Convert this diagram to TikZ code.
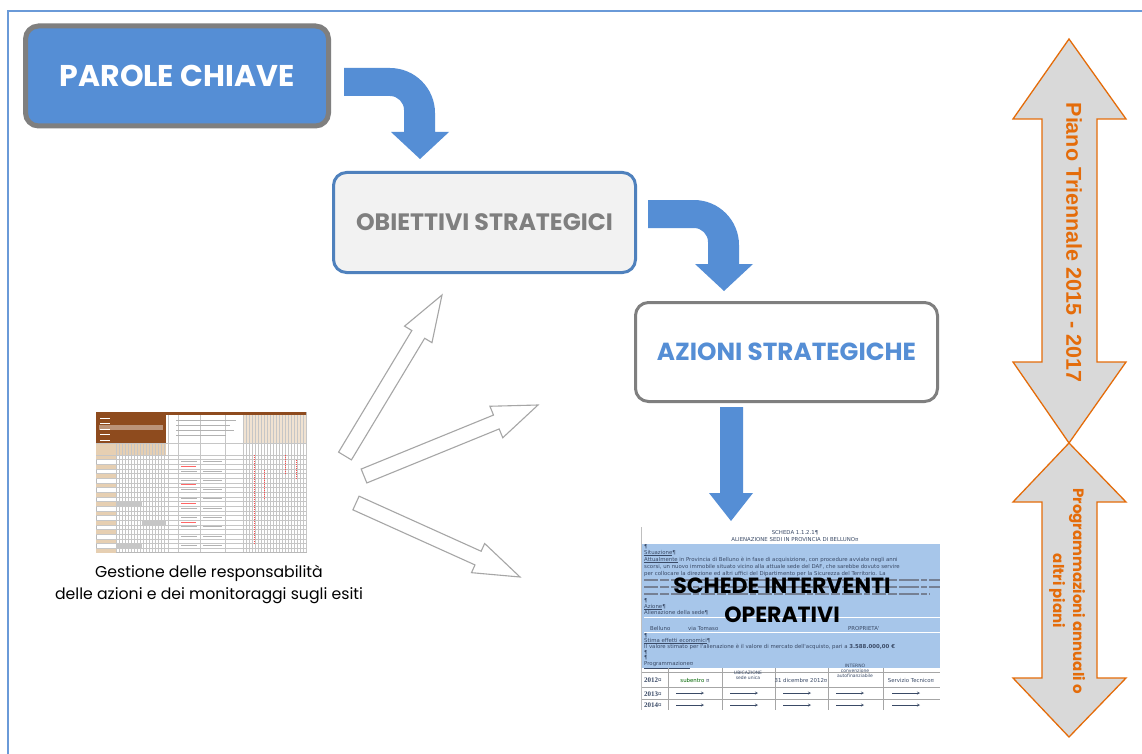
\documentclass[tikz,border=0pt]{standalone}
\usepackage{fontspec}
\setmainfont{Poppins}
\newfontfamily\arialf{Liberation Sans}
\newfontfamily\tinyf{DejaVu Sans}
\newfontfamily\serf{Liberation Serif}
\usetikzlibrary{calc}
\definecolor{kblue}{HTML}{558ED5}
\definecolor{kgray}{HTML}{7F7F7F}
\definecolor{kbord}{HTML}{4F81BD}
\definecolor{kframe}{HTML}{6A9AD8}
\definecolor{korange}{HTML}{E46C0A}
\definecolor{klight}{HTML}{D9D9D9}
\definecolor{kbox}{HTML}{F2F2F2}
\definecolor{kline}{HTML}{A6A6A6}
\definecolor{kbrown}{HTML}{8E4B1E}
\definecolor{ktan}{HTML}{E6CFB2}
\definecolor{khl}{HTML}{A7C6EA}
\definecolor{ktxt}{HTML}{3A4A66}
\newcommand\hollowarrow[5]{%
  \coordinate (hb) at ($(#2)!#5!(#1)$);
  \draw[hollow] ($(#1)!#3!90:(#2)$) -- ($(hb)!#3!90:(#2)$) -- ($(hb)!#4!90:(#2)$) -- (#2)
    -- ($(hb)!#4!-90:(#2)$) -- ($(hb)!#3!-90:(#2)$) -- ($(#1)!#3!-90:(#2)$) -- cycle;}
\tikzset{
  bent/.pic={\fill[kblue] (0,0) -- (46,0) .. controls (70.8,0) and (91,20.2) .. (91,45)
     -- (91,64) -- (105,64) -- (76,91) -- (47,64) -- (60,64) -- (60,42)
     .. controls (60,34.3) and (53.7,28) .. (46,28) -- (0,28) -- cycle;},
  boxbase/.style={rounded corners=13pt, inner sep=0pt, font=\bfseries\fontsize{24.7}{30}\selectfont},
  pkbox/.style={boxbase, draw=kgray, line width=5pt, fill=kblue, text=white,
     minimum width=303pt, minimum height=100pt, font=\bfseries\fontsize{30}{34}\selectfont},
  obbox/.style={boxbase, draw=kbord, line width=3pt, fill=kbox, text=kgray,
     minimum width=302pt, minimum height=100pt, font=\bfseries\fontsize{23.7}{30}\selectfont},
  azbox/.style={boxbase, draw=kgray, line width=3pt, fill=white, text=kblue,
     minimum width=302pt, minimum height=99pt},
  hollow/.style={draw=kline, line width=1.1pt, fill=white, line join=miter},
  rarrow/.style={draw=korange, line width=1.3pt, fill=klight, line join=miter},
  sgrid/.style={draw=gray!45, line width=0.35pt},
  tt/.style={inner sep=0pt, text=ktxt, font=\tinyf\fontsize{5.4}{6}\selectfont},
  strk/.style={draw=ktxt!70, line width=1.6pt, dash pattern=on 14pt off 2pt on 9pt off 2pt on 20pt off 2pt on 6pt off 2pt},
  overlay/.style={inner sep=0pt, anchor=base, font=\bfseries\fontsize{22}{29}\selectfont},
}
\begin{document}
\begin{tikzpicture}[x=1pt,y=-1pt]
\useasboundingbox (0,0) rectangle (1142,754);
\fill[white] (0,0) rectangle (1142,754);
% frame
\draw[kframe, line width=2.2pt] (8,756) -- (8,11) -- (1144,11);

% main boxes
\node[pkbox] (pk) at (177,76) {PAROLE CHIAVE};
\node[obbox] (ob) at (484.5,222.5) {OBIETTIVI STRATEGICI};
\node[azbox] (az) at (786.5,352) {AZIONI STRATEGICHE};

% bent block arrows
\pic at (344,68) {bent};
\pic at (648,200) {bent};
% straight down arrow
\fill[kblue] (720,407) -- (743,407) -- (743,493) -- (753,493) -- (731,521) -- (709,493) -- (720,493) -- cycle;

% right double arrows
\draw[rarrow] (1069,39) -- (1126,119) -- (1097,119) -- (1097,362) -- (1126,362) -- (1069,443)
  -- (1013,362) -- (1042,362) -- (1042,119) -- (1013,119) -- cycle;
\draw[rarrow] (1069,443) -- (1126,502) -- (1097,502) -- (1097,678) -- (1126,678) -- (1069,737)
  -- (1013,678) -- (1042,678) -- (1042,502) -- (1013,502) -- cycle;
\node[rotate=-90, inner sep=0pt, text=korange, font=\arialf\bfseries\fontsize{21.5}{24}\selectfont] (t1) at (1074,242.5) {Piano Triennale 2015 - 2017};
\node[rotate=-90, inner sep=0pt, align=center, text=korange, font=\bfseries\fontsize{15}{20}\selectfont] (t2) at (1067,591) {Programmazioni annuali o\\altri piani};

% hollow arrows
\coordinate (a1t) at (345,456); \coordinate (a1p) at (442,295);
\coordinate (a2t) at (364,476); \coordinate (a2p) at (538,405);
\coordinate (a3t) at (356,503); \coordinate (a3p) at (520,577);
\hollowarrow{a1t}{a1p}{7.5pt}{16pt}{46pt}
\hollowarrow{a2t}{a2p}{7.5pt}{17pt}{45pt}
\hollowarrow{a3t}{a3p}{7.5pt}{16pt}{46pt}

% spreadsheet picture
\node[anchor=north west, draw=gray!55, line width=0.5pt, fill=white, minimum width=210pt, minimum height=140pt, inner sep=0pt] (ss) at (96,412) {};
\fill[kbrown] (96,412) rectangle (166,443);
\fill[kbrown] (96,412) rectangle (306,415);
\fill[kbrown!60!white] (99,425) rectangle (163,430);
\fill[ktan] (96,443) rectangle (166,455);
\fill[ktan!60!white] (243,415) rectangle (306,443);
\foreach \i in {0,2,...,20} {\fill[ktan] (96,455+\i*4.65) rectangle (116,459.65+\i*4.65);}
\fill[gray!45] (116,502) rectangle (142,507);
\fill[gray!45] (142,520) rectangle (166,525);
\fill[gray!45] (116,543) rectangle (142,548);
\foreach \i in {0,...,20} {\draw[sgrid] (96,455+\i*4.65) -- (306,455+\i*4.65);}
\draw[sgrid] (96,443) -- (306,443);
\foreach \x in {116,119,...,166} {\draw[sgrid] (\x,443) -- (\x,552);}
\foreach \x in {168,178,200,225,243} {\draw[sgrid] (\x,415) -- (\x,552);}
\foreach \x in {246,249,...,306} {\draw[sgrid] (\x,415) -- (\x,552);}
\foreach \i in {1,3,...,19} {\draw[gray!60, line width=0.9pt] (181,457+\i*4.65) -- (197,457+\i*4.65);
  \draw[gray!60, line width=0.9pt] (203,457+\i*4.65) -- (222,457+\i*4.65);}
\foreach \i in {2,6,10,14} {\draw[red!60, line width=0.9pt] (181,457+\i*4.65) -- (196,457+\i*4.65);}
\draw[gray!60, line width=0.9pt] (176,420) -- (236,420) (176,425) -- (230,425) (176,430) -- (234,430) (176,435) -- (226,435);
\draw[red!70, line width=0.5pt, dash pattern=on 1pt off 1pt] (254,455) -- (254,545) (264,470) -- (264,500) (285,455) -- (285,475) (296,460) -- (296,480);
\foreach \i in {0,...,4} {\draw[white, line width=0.8pt] (100,418+\i*5.5) -- (110,418+\i*5.5);}
\node[anchor=north, align=center, inner sep=0pt, font=\fontsize{15.7}{22}\selectfont] (cap) at (209,565) {Gestione delle responsabilità\\delle azioni e dei monitoraggi sugli esiti};

% scheda picture
\node[anchor=north west, inner sep=0pt, minimum width=299pt, minimum height=183pt, fill=white] (sc) at (641,527) {};
\begin{scope}
\clip (641,527) rectangle (940,710);
\fill[khl] (641,544) rectangle (940,668);
\node[tt, anchor=base] at (795,534) {SCHEDA 1.1.2.1¶};
\node[tt, anchor=base] at (795,541) {ALIENAZIONE SEDI IN PROVINCIA DI BELLUNO¤};
\node[tt, anchor=base west] at (644,548) {¶};
\node[tt, anchor=base west] at (644,554) {\underline{Situazione}¶};
\node[tt, anchor=base west] at (644,561) {\underline{Attualmente} in Provincia di Belluno è in fase di acquisizione, con procedure avviate negli anni};
\node[tt, anchor=base west] at (644,568) {scorsi, un nuovo immobile situato vicino alla attuale sede del DAF, che sarebbe dovuto servire};
\node[tt, anchor=base west] at (644,575) {per collocare la direzione ed altri uffici del Dipartimento per la Sicurezza del Territorio. La};
\draw[strk] (644,580) -- (940,580) (644,587) -- (940,587) (644,594) -- (930,594);
\node[tt, anchor=base west] at (644,602) {¶};
\node[tt, anchor=base west] at (644,608) {\underline{Azione}¶};
\node[tt, anchor=base west] at (644,614) {Alienazione della sede¶};
\draw[white, line width=0.6pt] (644,617) -- (940,617) (644,632) -- (940,632);
\node[tt, anchor=base west] at (650,630.5) {Belluno};
\node[tt, anchor=base west] at (688,630.5) {via Tomaso};
\node[tt, anchor=base west] at (848,630.5) {PROPRIETA'};
\node[tt, anchor=base west] at (644,637) {¶};
\node[tt, anchor=base west] at (644,642) {\underline{Stima effetti economici}¶};
\node[tt, anchor=base west] at (644,648) {Il valore stimato per l'alienazione è il valore di mercato dell'acquisto, pari a \textbf{3.588.000,00 €}};
\node[tt, anchor=base west] at (644,654) {¶};
\node[tt, anchor=base west] at (644,659.5) {¶};
\node[tt, anchor=base west] at (644,665.5) {\underline{Programmazione}¤};
\draw[gray!70, line width=0.5pt] (641,672) -- (940,672) (641,687) -- (940,687) (641,699) -- (940,699);
\foreach \x in {668,722,775,828,883} {\draw[gray!70, line width=0.5pt] (\x,668) -- (\x,710);}
\node[anchor=base west, inner sep=0pt, text=ktxt, font=\serf\bfseries\fontsize{7}{8}\selectfont] at (644,682) {2012¤};
\node[anchor=base west, inner sep=0pt, text=ktxt, font=\serf\bfseries\fontsize{7}{8}\selectfont] at (644,696) {2013¤};
\node[anchor=base west, inner sep=0pt, text=ktxt, font=\serf\bfseries\fontsize{7}{8}\selectfont] at (644,707) {2014¤};
\node[tt, anchor=base] at (695,682) {\textcolor{green!40!black}{subentro} ¤};
\node[tt, anchor=base, align=center, font=\tinyf\fontsize{4.5}{5}\selectfont] at (748,679) {UBICAZIONE\\sede unica};
\node[tt, anchor=base] at (801,682) {31 dicembre 2012¤};
\node[tt, anchor=base, align=center, font=\tinyf\fontsize{4.5}{5}\selectfont] at (855,677) {INTERNO\\convenzione\\autofinanziabile};
\node[tt, anchor=base] at (911,682) {Servizio Tecnico¤};
\foreach \y in {693,705} {\foreach \x in {676,730,783,836,892} {\draw[ktxt, line width=0.4pt, -{stealth}] (\x,\y) -- (\x+28,\y);}}
\end{scope}
\draw[gray!50, line width=0.5pt] (641,527) -- (641,710);
\node[overlay] (scl1) at (782,593) {SCHEDE INTERVENTI};
\node[overlay] (scl2) at (782,622) {OPERATIVI};
\end{tikzpicture}
\end{document}
